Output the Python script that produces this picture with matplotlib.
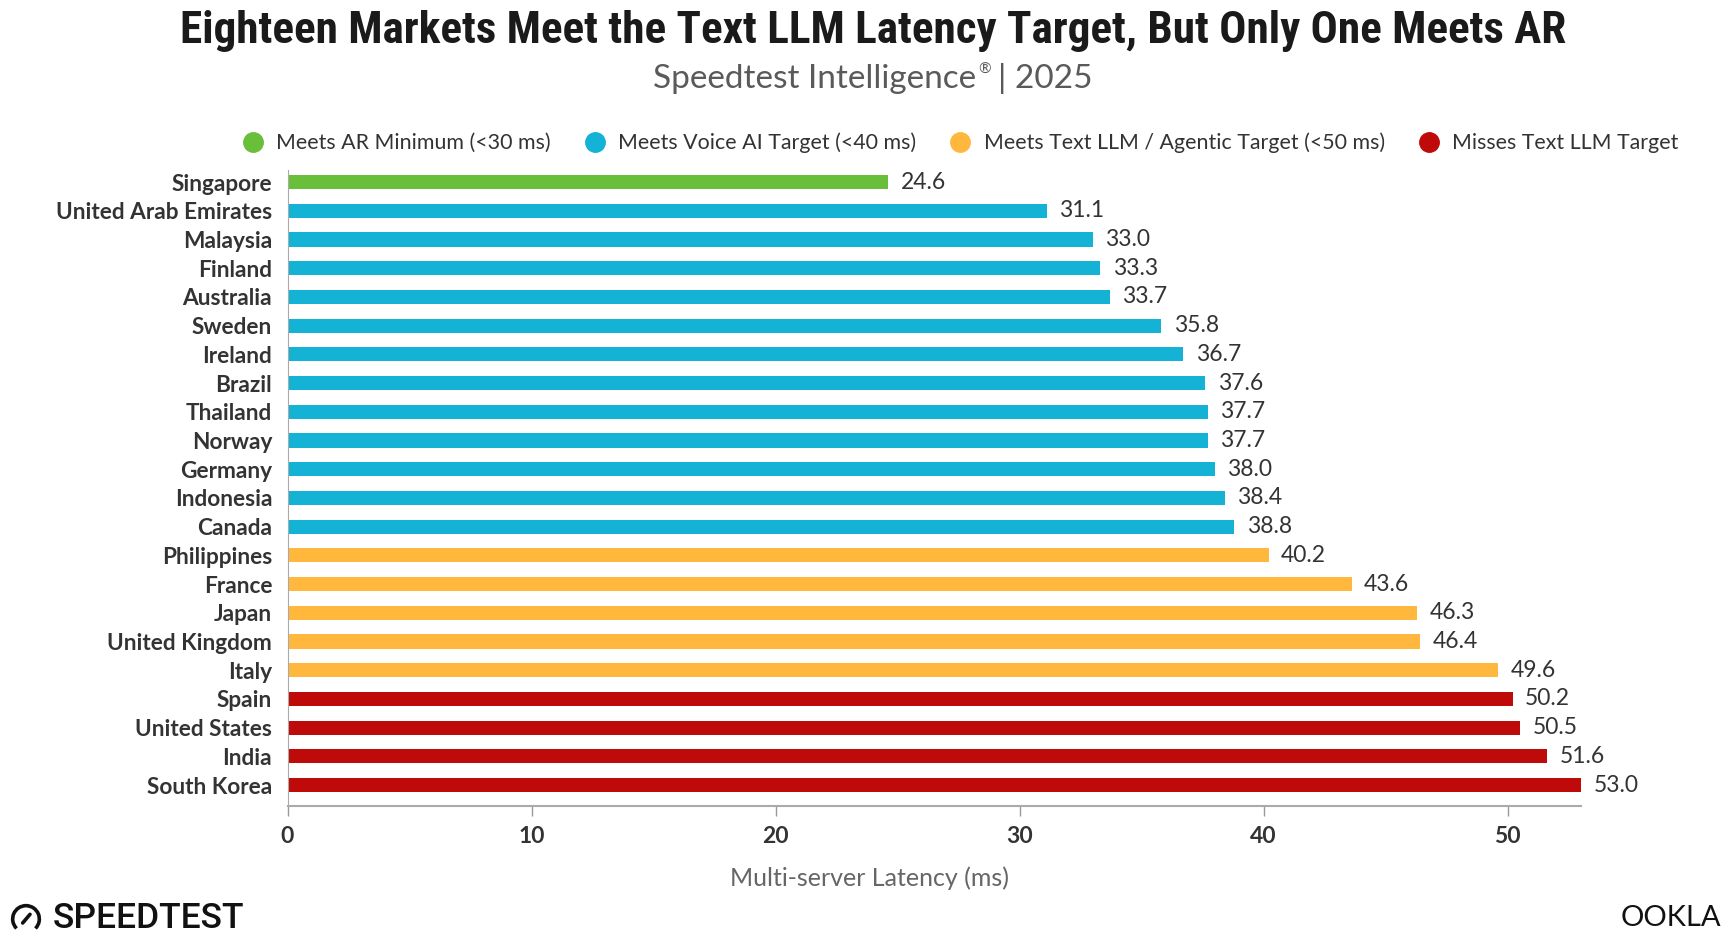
import matplotlib
matplotlib.use("Agg")
import matplotlib.pyplot as plt
from matplotlib import font_manager
from matplotlib.lines import Line2D
from matplotlib.patches import Arc

countries = ["Singapore", "United Arab Emirates", "Malaysia", "Finland", "Australia",
             "Sweden", "Ireland", "Brazil", "Thailand", "Norway", "Germany", "Indonesia",
             "Canada", "Philippines", "France", "Japan", "United Kingdom", "Italy",
             "Spain", "United States", "India", "South Korea"]
latency = [24.6, 31.1, 33.0, 33.3, 33.7, 35.8, 36.7, 37.6, 37.7, 37.7, 38.0, 38.4,
           38.8, 40.2, 43.6, 46.3, 46.4, 49.6, 50.2, 50.5, 51.6, 53.0]
tiers = ["ar", "voice", "voice", "voice", "voice", "voice", "voice", "voice", "voice",
         "voice", "voice", "voice", "voice", "text", "text", "text", "text", "text",
         "miss", "miss", "miss", "miss"]
tier_names = ["ar", "voice", "text", "miss"]
tier_labels = ["Meets AR Minimum (<30 ms)", "Meets Voice AI Target (<40 ms)",
               "Meets Text LLM / Agentic Target (<50 ms)", "Misses Text LLM Target"]
tier_colors = {"ar": "#6abf3a", "voice": "#14b2d4", "text": "#ffb83d", "miss": "#bf0a0a"}
x_ticks = [0, 10, 20, 30, 40, 50]

available = {f.name for f in font_manager.fontManager.ttflist}

def pick(*names):
    for n in names:
        if n in available:
            return n
    return "DejaVu Sans"

base = pick("Lato", "Noto Sans", "Open Sans")
cond = pick("Liberation Sans Narrow", "DejaVu Sans Condensed", "Roboto Condensed", "DejaVu Sans")
plt.rcParams["font.family"] = [base, "DejaVu Sans"]

W, H = 1734, 943
fig = plt.figure(figsize=(W / 100, H / 100), dpi=100)
fig.patch.set_facecolor("white")

left, right = 287.5 / W, 1581 / W
top_px, bot_px = 170, 806
ax = fig.add_axes([left, 1 - bot_px / H, right - left, (bot_px - top_px) / H])

ypos = list(range(len(countries)))
colors = [tier_colors[t] for t in tiers]
ax.barh(ypos, latency, height=0.49, color=colors, zorder=2)
ax.set_xlim(0, 53)
ax.set_ylim(len(countries) - 1 + 0.73, -0.42)
ax.set_yticks(ypos)
ax.set_yticklabels(countries, fontsize=16.3, fontweight="bold", color="#333333")
ax.tick_params(axis="y", length=0, pad=11)
ax.set_xticks(x_ticks)
ax.set_xticklabels([str(t) for t in x_ticks], fontsize=16.5, fontweight="bold", color="#333333")
ax.tick_params(axis="x", length=7.5, color="#999999", width=1, pad=7)
for s in ["top", "right"]:
    ax.spines[s].set_visible(False)
ax.spines["left"].set_color("#aaaaaa")
ax.spines["bottom"].set_color("#aaaaaa")
ax.spines["bottom"].set_linewidth(1.5)

for y, v in zip(ypos, latency):
    ax.annotate(f"{v:.1f}", xy=(v, y), xytext=(9, 0), textcoords="offset points",
                va="center", ha="left", fontsize=16.5, color="#333333")

fig.text(869 / W, 1 - 878 / H, "Multi-server Latency (ms)", ha="center", va="center",
         fontsize=18, color="#666666")

fig.text(0.5035, 1 - 31 / H, "Eighteen Markets Meet the Text LLM Latency Target, But Only One Meets AR",
         ha="center", va="center", fontsize=32.5, fontweight="bold", color="#1a1a1a",
         family=[cond, "DejaVu Sans"])

# subtitle assembled from pieces so the registered mark is a small superscript
renderer = fig.canvas.get_renderer()
sub_y = 1 - 79 / H
sub_kw = dict(va="center", ha="left", fontweight="normal", color="#5a5a5a")
parts = [("Speedtest Intelligence", 24, 0.0, 2), ("®", 11, 9 / H, 7), ("| 2025", 24, 0.0, 0)]
texts = []
widths = []
gaps = []
for s, fs, dy, g in parts:
    t = fig.text(0, sub_y + dy, s, fontsize=fs, **sub_kw)
    bb = t.get_window_extent(renderer=renderer)
    texts.append(t)
    widths.append(bb.width)
    gaps.append(g)
total = sum(widths) + sum(gaps)
x0 = 873 - total / 2
for t, w, g in zip(texts, widths, gaps):
    t.set_x(x0 / W)
    x0 += w + g

handles = [Line2D([], [], marker="o", linestyle="none", markersize=14,
                  markerfacecolor=tier_colors[t], markeredgecolor=tier_colors[t])
           for t in tier_names]
fig.legend(handles, tier_labels, loc="center", bbox_to_anchor=(955 / W, 1 - 143 / H),
           ncol=4, frameon=False, fontsize=15.4, handletextpad=0.1, columnspacing=1.05,
           labelcolor="#333333")

# Speedtest logo
fig.text(53 / W, 1 - 918 / H, "SPEEDTEST", ha="left", va="center", fontsize=25.5,
         fontweight="medium", color="#111111", family=["Roboto", "DejaVu Sans"])
fig.text(1621 / W, 1 - 918 / H, "OOKLA", ha="left", va="center", fontsize=21,
         color="#111111")
iax = fig.add_axes([10 / W, 1 - 935 / H, 32 / W, 32 / H])
iax.set_xlim(-1.2, 1.2)
iax.set_ylim(-1.2, 1.2)
iax.set_aspect("equal")
iax.axis("off")
iax.add_patch(Arc((0, 0), 2, 2, theta1=-45, theta2=225, lw=2.6, color="#111111"))
iax.plot([-0.25, 0.3], [-0.3, 0.35], color="#111111", lw=2.6, solid_capstyle="round")

fig.savefig("out.png", dpi=100, facecolor="white")
